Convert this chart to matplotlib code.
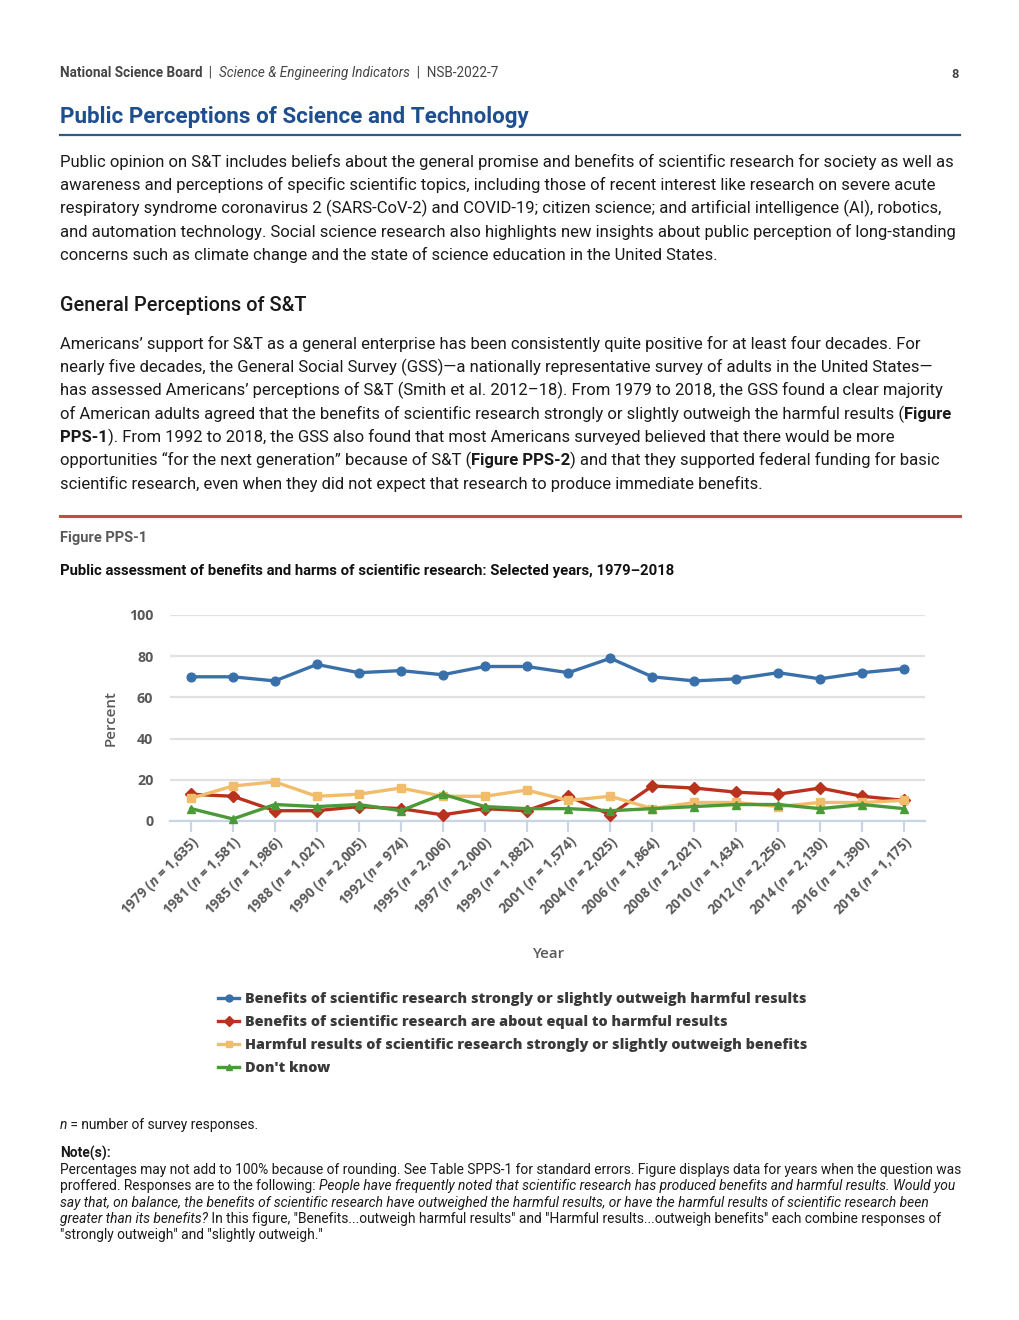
import matplotlib
matplotlib.use("Agg")
import matplotlib.pyplot as plt
from matplotlib.lines import Line2D

# data
years = ["1979", "1981", "1985", "1988", "1990", "1992", "1995", "1997", "1999",
         "2001", "2004", "2006", "2008", "2010", "2012", "2014", "2016", "2018"]
n_resp = ["1,635", "1,581", "1,986", "1,021", "2,005", "974", "2,006", "2,000", "1,882",
          "1,574", "2,025", "1,864", "2,021", "1,434", "2,256", "2,130", "1,390", "1,175"]
benefits_outweigh = [70, 70, 68, 76, 72, 73, 71, 75, 75, 72, 79, 70, 68, 69, 72, 69, 72, 74]
about_equal = [13, 12, 5, 5, 7, 6, 3, 6, 5, 12, 3, 17, 16, 14, 13, 16, 12, 10]
harms_outweigh = [11, 17, 19, 12, 13, 16, 12, 12, 15, 10, 12, 6, 9, 9, 7, 9, 9, 10]
dont_know = [6, 1, 8, 7, 8, 5, 13, 7, 6, 6, 5, 6, 7, 8, 8, 6, 8, 6]

series_labels = ["Benefits of scientific research strongly or slightly outweigh harmful results",
                 "Benefits of scientific research are about equal to harmful results",
                 "Harmful results of scientific research strongly or slightly outweigh benefits",
                 "Don't know"]
colors = ["#3a70aa", "#b8321e", "#f2bd6a", "#4b9a3a"]
markers = ["o", "D", "s", "^"]

plt.rcParams['mathtext.fontset'] = 'custom'
plt.rcParams['mathtext.rm'] = 'Open Sans:bold'
plt.rcParams['mathtext.it'] = 'Open Sans:italic:bold'
plt.rcParams['mathtext.bf'] = 'Open Sans:bold'

W, H = 1020, 1320
fig = plt.figure(figsize=(W / 100, H / 100), dpi=100)
renderer = fig.canvas.get_renderer()


def fx(px):
    return px / W


def fy(py):
    return 1 - py / H


def rich_line(x, y, parts, size, color="#1a1a1a", family="Roboto"):
    # draw a line made of (text, weight, style) pieces on one baseline
    cur = x
    for txt, weight, style in parts:
        t = fig.text(fx(cur), fy(y), txt, fontsize=size, fontweight=weight, fontstyle=style,
                     color=color, family=family, va="baseline", ha="left")
        cur += t.get_window_extent(renderer).width


# header
rich_line(60, 77, [("National Science Board", "bold", "normal"), ("  |  ", "normal", "normal"),
                   ("Science & Engineering Indicators", "normal", "italic"),
                   ("  |  NSB-2022-7", "normal", "normal")], 9.75, color="#444444")
fig.text(fx(959), fy(78), "8", fontsize=9.2, family="Roboto", fontweight="bold",
         color="#444444", ha="right", va="baseline")

fig.text(fx(60), fy(123), "Public Perceptions of Science and Technology", fontsize=16.1,
         family="Roboto", fontweight="bold", color="#1f4e8f", va="baseline")
fig.add_artist(Line2D([fx(60), fx(960)], [fy(135), fy(135)], color="#2d5b88", lw=1.6))

body_size = 11.95
para1 = ["Public opinion on S&T includes beliefs about the general promise and benefits of scientific research for society as well as",
         "awareness and perceptions of specific scientific topics, including those of recent interest like research on severe acute",
         "respiratory syndrome coronavirus 2 (SARS-CoV-2) and COVID-19; citizen science; and artificial intelligence (AI), robotics,",
         "and automation technology. Social science research also highlights new insights about public perception of long-standing",
         "concerns such as climate change and the state of science education in the United States."]
for i, line in enumerate(para1):
    rich_line(60, 167 + i * 23.3, [(line, "normal", "normal")], body_size)

fig.text(fx(60), fy(311), "General Perceptions of S&T", fontsize=14.35, family="Roboto",
         fontweight="medium", color="#1a1a1a", va="baseline")

para2 = [[("Americans\u2019 support for S&T as a general enterprise has been consistently quite positive for at least four decades. For", "normal", "normal")],
         [("nearly five decades, the General Social Survey (GSS)\u2014a nationally representative survey of adults in the United States\u2014", "normal", "normal")],
         [("has assessed Americans\u2019 perceptions of S&T (Smith et al. 2012\u201318). From 1979 to 2018, the GSS found a clear majority", "normal", "normal")],
         [("of American adults agreed that the benefits of scientific research strongly or slightly outweigh the harmful results (", "normal", "normal"),
          ("Figure", "bold", "normal")],
         [("PPS-1", "bold", "normal"),
          ("). From 1992 to 2018, the GSS also found that most Americans surveyed believed that there would be more", "normal", "normal")],
         [("opportunities \u201cfor the next generation\u201d because of S&T (", "normal", "normal"), ("Figure PPS-2", "bold", "normal"),
          (") and that they supported federal funding for basic", "normal", "normal")],
         [("scientific research, even when they did not expect that research to produce immediate benefits.", "normal", "normal")]]
for i, parts in enumerate(para2):
    rich_line(60, 349 + i * 23.3, parts, body_size)

fig.add_artist(Line2D([fx(60), fx(960)], [fy(516), fy(516)], color="#c0503c", lw=2.2))
fig.text(fx(60), fy(542), "Figure PPS-1", fontsize=10.5, family="Roboto", fontweight="bold",
         color="#595959", va="baseline")
fig.text(fx(60), fy(575), "Public assessment of benefits and harms of scientific research: Selected years, 1979\u20132018",
         fontsize=10.75, family="Roboto", fontweight="bold", color="#111111", va="baseline")

# chart
ax = fig.add_axes([fx(170), fy(821), fx(925) - fx(170), (821 - 615) / H])
xs = list(range(len(years)))
all_series = [benefits_outweigh, about_equal, harms_outweigh, dont_know]
handles = []
for vals, col, mk, lab in zip(all_series, colors, markers, series_labels):
    ms = 6.3 if mk != "D" else 5.8
    h, = ax.plot(xs, vals, color=col, lw=2.4, marker=mk, ms=ms, label=lab, zorder=3,
                 clip_on=False)
    handles.append(h)

ax.set_ylim(0, 100)
ax.set_xlim(-0.5, len(years) - 0.5)
ax.set_yticks([0, 20, 40, 60, 80, 100])
ax.yaxis.grid(True, color="#e1e1e1", lw=1.6)
ax.set_axisbelow(True)
for s in ["top", "right", "left"]:
    ax.spines[s].set_visible(False)
ax.spines["bottom"].set_color("#cbd4e4")
ax.spines["bottom"].set_linewidth(1.6)
ax.tick_params(axis="y", length=0, pad=12, labelsize=10.3, labelcolor="#595959")
ax.tick_params(axis="x", length=8, width=1.6, color="#cbd4e4", pad=1)
for lbl in ax.get_yticklabels():
    lbl.set_family("Open Sans")
    lbl.set_fontweight("bold")
ax.set_xticks(xs)
xlabels = [f"{y} ($n$ = {n})" for y, n in zip(years, n_resp)]
ax.set_xticklabels(xlabels, rotation=45, ha="right", rotation_mode="anchor",
                   fontsize=9.8, color="#595959", family="Open Sans", fontweight="bold")
ax.set_ylabel("Percent", fontsize=10.8, family="Open Sans", fontweight="semibold",
              color="#595959", labelpad=8)
fig.text(fx(548), fy(954), "Year", fontsize=10.8, family="Open Sans", fontweight="semibold",
         color="#595959", ha="center", va="center")

leg = fig.legend(handles=handles, loc="upper left", bbox_to_anchor=(fx(205), fy(979)),
                 frameon=False, handlelength=1.5, handletextpad=0.35, labelspacing=0.62,
                 prop={"family": "Open Sans", "weight": "heavy", "size": 10.35})
for t in leg.get_texts():
    t.set_color("#3a3a3a")
for lh in leg.legend_handles:
    lh.set_markersize(5)
    lh.set_linewidth(2.4)

# footer
foot = 9.9
rich_line(60, 1129, [("n", "normal", "italic"), (" = number of survey responses.", "normal", "normal")], foot)
rich_line(60, 1158, [("Note(s):", "bold", "normal")], foot)
notes = [[("Percentages may not add to 100% because of rounding. See Table SPPS-1 for standard errors. Figure displays data for years when the question was", "normal", "normal")],
         [("proffered. Responses are to the following: ", "normal", "normal"),
          ("People have frequently noted that scientific research has produced benefits and harmful results. Would you", "normal", "italic")],
         [("say that, on balance, the benefits of scientific research have outweighed the harmful results, or have the harmful results of scientific research been", "normal", "italic")],
         [("greater than its benefits?", "normal", "italic"),
          (" In this figure, \"Benefits...outweigh harmful results\" and \"Harmful results...outweigh benefits\" each combine responses of", "normal", "normal")],
         [("\"strongly outweigh\" and \"slightly outweigh.\"", "normal", "normal")]]
for i, parts in enumerate(notes):
    rich_line(60, 1174 + i * 16.3, parts, foot)

fig.savefig("out.png", dpi=100)
